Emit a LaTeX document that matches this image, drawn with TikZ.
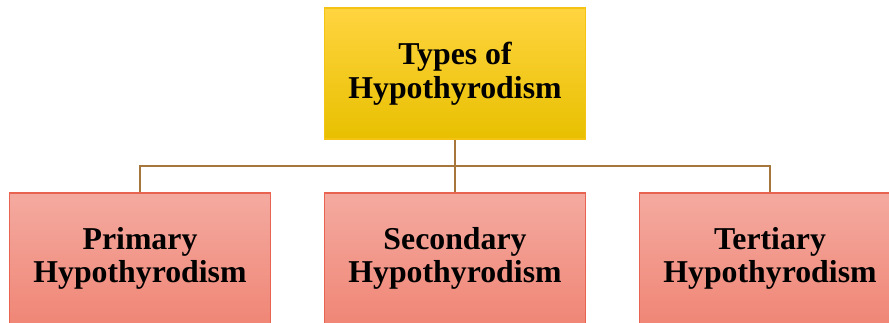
\documentclass[tikz,border=0pt]{standalone}
\usepackage{fontspec}
\setmainfont{Liberation Serif}
\begin{document}
\begin{tikzpicture}[x=1pt,y=-1pt,
  box/.style={rectangle, minimum width=261pt, minimum height=131pt, inner sep=0pt,
    align=center, font=\bfseries\fontsize{31.8}{33.5}\selectfont, line width=1.2pt},
  topbox/.style={box, draw={rgb,255:red,245;green,195;blue,20}, top color={rgb,255:red,255;green,212;blue,64}, bottom color={rgb,255:red,232;green,192;blue,0}},
  subbox/.style={box, draw={rgb,255:red,232;green,100;blue,80}, top color={rgb,255:red,244;green,170;blue,160}, bottom color={rgb,255:red,240;green,134;blue,118}},
  conn/.style={draw={rgb,255:red,166;green,118;blue,60}, line width=2pt}]
\useasboundingbox (0,0) rectangle (889,323);
\clip (0,0) rectangle (889,323);
\node[topbox] (top) at (455,73.5) {Types of\\Hypothyrodism};
\node[subbox] (p) at (140,258.5) {Primary\\Hypothyrodism};
\node[subbox] (s) at (455,258.5) {Secondary\\Hypothyrodism};
\node[subbox] (t) at (770,258.5) {Tertiary\\Hypothyrodism};
\coordinate (j) at (455,166);
\draw[conn] (top.south) -- (s.north);
\draw[conn] (p.north) |- (j) -| (t.north);
\end{tikzpicture}
\end{document}
